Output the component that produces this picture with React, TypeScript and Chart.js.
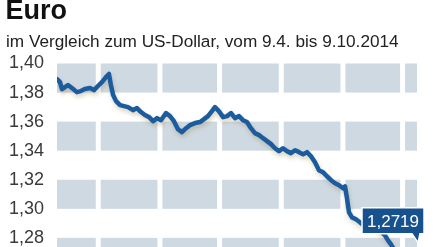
import React, { useEffect, useRef } from "react";
import { Chart, registerables } from "chart.js";

Chart.register(...registerables);

const TITLE = "Euro";
const SUBTITLE = "im Vergleich zum US-Dollar, vom 9.4. bis 9.10.2014";
const LAST_LABEL = "1,2719";

// day offset from 9.4.2014
const dayIndex = [
  0, 1.5, 2.5, 4, 5.5, 7.5, 10, 12, 14, 16.6, 18.6, 20.6, 22.6, 24.6, 26.1, 27.1,
  28.2, 29.7, 31.7, 33.7, 35.7, 38.2, 40.2, 42.2, 44.2, 46.3, 48.3, 50.3, 52.3,
  54.8, 56.8, 58.8, 60.8, 62.8, 64.9, 66.9, 69.4, 71.9, 73.9, 75.9, 77.9, 79.4,
  81.4, 83.5, 85.5, 87.5, 89.5, 91.5, 93.5, 95.5, 97.5, 99.5, 101.6, 103.6, 105.6,
  107.6, 109.6, 111.6, 113.6, 115.6, 117.6, 119.7, 121.7, 123.7, 125.7, 127.7,
  129.7, 131.7, 133.7, 135.7, 137.8, 139.8, 141.8, 143.8, 144.8, 145.8, 146.8,
  148.3, 150.3, 152.3, 154.4, 156.4, 158.4, 160.4, 162.4, 164.9, 166.4, 167.9,
  169.4, 172, 175, 177, 180, 181, 182, 183,
];

const eurUsd = [
  1.3893, 1.3872, 1.3824, 1.3838, 1.3852, 1.3831, 1.3803, 1.381, 1.3824, 1.3831,
  1.3817, 1.3845, 1.3872, 1.3907, 1.3928, 1.3852, 1.3783, 1.3741, 1.3714, 1.3707,
  1.37, 1.3679, 1.3693, 1.3666, 1.3645, 1.3631, 1.3603, 1.3624, 1.361, 1.3659,
  1.3638, 1.3603, 1.3548, 1.3528, 1.3555, 1.3576, 1.359, 1.3597, 1.3617, 1.3638,
  1.3672, 1.37, 1.3672, 1.3631, 1.3638, 1.3659, 1.3624, 1.3638, 1.361, 1.3597,
  1.3555, 1.3521, 1.3507, 1.3486, 1.3466, 1.3445, 1.3417, 1.3397, 1.3417, 1.3397,
  1.3383, 1.3403, 1.339, 1.3376, 1.339, 1.3362, 1.3321, 1.3266, 1.3252, 1.3224,
  1.3197, 1.3176, 1.3162, 1.3141, 1.3155, 1.3072, 1.2976, 1.2941, 1.2928, 1.2907,
  1.2886, 1.2895, 1.288, 1.2866, 1.285, 1.2817, 1.2783, 1.2755, 1.2721, 1.2686,
  1.262, 1.2583, 1.2645, 1.263, 1.2635, 1.2719,
];

// month columns (day offsets of 9.4., 1.5., 1.6., 1.7., 1.8., 1.9., 1.10.)
const monthStartDays = [0, 22, 53, 83, 114, 145, 175];
const lastDay = 183;
const shadedBands = [
  [1.38, 1.4],
  [1.34, 1.36],
  [1.3, 1.32],
  [1.26, 1.28],
];
const yMin = 1.24;
const yMax = 1.4;
const yStep = 0.02;

const LINE_COLOR = "#1b5c9f";
const BOX_COLOR = "#17528f";
const BAND_COLOR = "#cfd9e2";

const bandsPlugin = {
  id: "monthBands",
  beforeDatasetsDraw(chart: any) {
    const { ctx, chartArea, scales } = chart;
    const x = scales.x;
    const y = scales.y;
    ctx.save();
    ctx.fillStyle = BAND_COLOR;
    for (let i = 0; i < monthStartDays.length; i++) {
      const left = x.getPixelForValue(monthStartDays[i]);
      const isLast = i === monthStartDays.length - 1;
      const right = isLast
        ? x.getPixelForValue(lastDay) - 4
        : x.getPixelForValue(monthStartDays[i + 1]) - 5;
      for (const [lo, hi] of shadedBands) {
        const top = y.getPixelForValue(hi);
        const bottom = Math.min(y.getPixelForValue(lo), chartArea.bottom);
        ctx.fillRect(left, top, right - left, bottom - top);
      }
    }
    ctx.restore();
  },
};

const shadowPlugin = {
  id: "lineShadow",
  beforeDatasetDraw(chart: any) {
    const ctx = chart.ctx;
    ctx.save();
    ctx.shadowColor = "rgba(150,130,70,0.35)";
    ctx.shadowBlur = 4;
    ctx.shadowOffsetX = 1;
    ctx.shadowOffsetY = 3;
  },
  afterDatasetDraw(chart: any) {
    chart.ctx.restore();
  },
};

const labelPlugin = {
  id: "lastLabel",
  afterDatasetsDraw(chart: any) {
    const { ctx, scales } = chart;
    const px = scales.x.getPixelForValue(dayIndex[dayIndex.length - 1]);
    const py = scales.y.getPixelForValue(eurUsd[eurUsd.length - 1]);
    const right = px + 3;
    const left = right - 62;
    const bottom = py - 16;
    const top = bottom - 26;
    ctx.save();
    ctx.beginPath();
    ctx.moveTo(left, top);
    ctx.lineTo(right, top);
    ctx.lineTo(right, bottom);
    ctx.lineTo(px - 1, bottom);
    ctx.lineTo(px - 3, bottom + 9);
    ctx.lineTo(px - 9, bottom);
    ctx.lineTo(left, bottom);
    ctx.closePath();
    ctx.fillStyle = BOX_COLOR;
    ctx.fill();
    ctx.lineWidth = 1.5;
    ctx.strokeStyle = "#ffffff";
    ctx.stroke();
    ctx.fillStyle = "#ffffff";
    ctx.font = "17px 'Liberation Sans', Arial, sans-serif";
    ctx.textAlign = "center";
    ctx.textBaseline = "alphabetic";
    ctx.fillText(LAST_LABEL, (left + right) / 2, bottom - 6.5);
    ctx.restore();
  },
};

export default function App() {
  const canvasRef = useRef<HTMLCanvasElement | null>(null);

  useEffect(() => {
    if (!canvasRef.current) return;
    const points = dayIndex.map((d, i) => ({ x: d, y: eurUsd[i] }));
    const chart = new Chart(canvasRef.current, {
      type: "line",
      data: {
        datasets: [
          {
            data: points,
            borderColor: LINE_COLOR,
            borderWidth: 4.5,
            pointRadius: 0,
            tension: 0,
            borderJoinStyle: "round",
            borderCapStyle: "round",
            fill: false,
          },
        ],
      },
      options: {
        responsive: false,
        animation: false,
        devicePixelRatio: 1,
        layout: { padding: { top: 63.5, left: 9, right: 19, bottom: 4 } },
        plugins: {
          legend: { display: false },
          tooltip: { enabled: false },
        },
        scales: {
          x: {
            type: "linear",
            min: 0,
            max: lastDay,
            display: false,
          },
          y: {
            min: yMin,
            max: yMax,
            grid: { display: false, drawTicks: false },
            border: { display: false },
            afterFit: (scale: any) => {
              scale.width = 48;
              scale.paddingTop = 0;
              scale.paddingBottom = 0;
            },
            ticks: {
              stepSize: yStep,
              padding: 13,
              color: "#3a3a3a",
              font: { family: "'Liberation Sans', Arial, sans-serif", size: 18 },
              callback: (v: any) => Number(v).toFixed(2).replace(".", ","),
            },
          },
        },
      },
      plugins: [bandsPlugin, shadowPlugin, labelPlugin],
    });
    return () => chart.destroy();
  }, []);

  return (
    <div
      style={{
        position: "absolute",
        left: 0,
        top: 0,
        width: 440,
        height: 247,
        overflow: "hidden",
        background: "#ffffff",
      }}
    >
      <canvas
        ref={canvasRef}
        width={440}
        height={300}
        style={{ position: "absolute", left: 0, top: 0, width: 440, height: 300 }}
      />
      <div
        style={{
          position: "absolute",
          left: 5.5,
          top: -2.9,
          fontFamily: "'Liberation Sans', Arial, sans-serif",
          fontWeight: "bold",
          fontSize: 27,
          lineHeight: "27px",
          color: "#111",
          whiteSpace: "nowrap",
        }}
      >
        {TITLE}
      </div>
      <div
        style={{
          position: "absolute",
          left: 6,
          top: 33,
          fontFamily: "'Liberation Sans', Arial, sans-serif",
          fontSize: 17.2,
          lineHeight: "17.2px",
          color: "#222",
          whiteSpace: "nowrap",
        }}
      >
        {SUBTITLE}
      </div>
    </div>
  );
}
